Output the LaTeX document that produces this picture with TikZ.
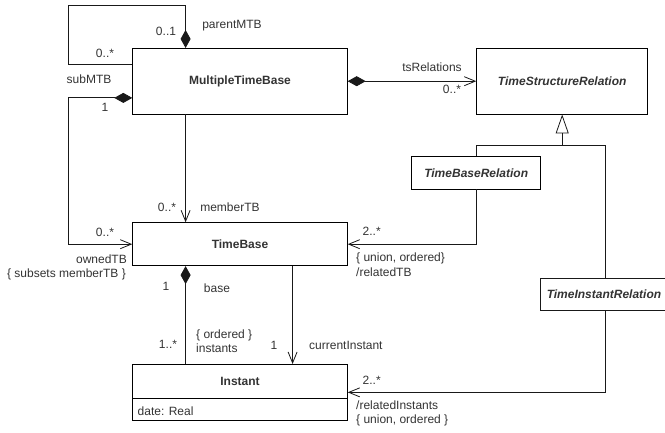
\documentclass[tikz,border=0pt]{standalone}
\usepackage{fontspec}
\setmainfont{Liberation Sans}
\usetikzlibrary{arrows.meta,calc,shapes.multipart}
\begin{document}
\begin{tikzpicture}[
    x=1pt, y=1pt,
    font=\fontsize{12}{13}\selectfont,
    every node/.style={text=black!80},
    cls/.style={draw, line width=0.8pt, inner sep=0pt, font=\fontsize{12}{13}\selectfont\bfseries},
    abscls/.style={cls, font=\fontsize{12}{13}\selectfont\bfseries\itshape},
    lbl/.style={inner sep=0pt},
    line/.style={line width=0.8pt, draw=black!90},
    assoc/.style={line, -{Straight Barb[length=11pt, width=9pt]}},
    comp/.style={line, {Diamond[length=18pt, width=10pt]}-},
    compnav/.style={line, {Diamond[length=18pt, width=10pt]}-{Straight Barb[length=11pt, width=9pt]}},
    gen/.style={line, -{Triangle[open, length=19pt, width=13pt]}}
]
\useasboundingbox (0,0) rectangle (665,432);

% classes
\node[cls, minimum width=214.6pt, minimum height=65.7pt] (mtb) at (240,350.8) {MultipleTimeBase};
\node[abscls, minimum width=171pt, minimum height=65.7pt] (tsr) at (562.2,350.8) {TimeStructureRelation};
\node[abscls, minimum width=129pt, minimum height=32.3pt] (tbr) at (476.2,259.2) {TimeBaseRelation};
\node[abscls, draw=none, minimum width=120pt, minimum height=31pt] (tir) at (604,137.5) {TimeInstantRelation};
\draw[line] ($(tir.north west)+(-3.3,0)$) rectangle ($(tir.south east)+(10,0)$);
\node[cls, minimum width=214.6pt, minimum height=43pt] (tb) at (240,187.8) {TimeBase};
\node[cls, rectangle split, rectangle split parts=2, rectangle split part align={center,left},
      inner xsep=5pt, inner ysep=0pt, minimum width=214.6pt, anchor=north] (inst) at (240,68)
      {\rule[-12.8pt]{0pt}{33.3pt}Instant
       \nodepart{two}\rule[-4.8pt]{0pt}{21pt}\mdseries date: Real};

% associations
\coordinate (loopL) at (68.3,426.3);
\coordinate (genj) at (0,286.3);
\coordinate (genr) at (605,0);
\draw[comp] ($(mtb.north west)+(53.3,0)$) |- (loopL) |- ($(mtb.west)+(0,16.7)$);
\draw[compnav] ($(mtb.west)+(0,-16.7)$) -| (loopL |- tb.west) -- (tb.west);
\draw[assoc] ($(mtb.south west)+(53.3,0)$) -- ($(tb.north west)+(53.3,0)$);
\draw[compnav] (mtb.east) -- (tsr.west);
\draw[gen] (tsr.south |- genj) -- (tsr.south);
\draw[line] (tbr.north) |- (genr |- genj) -- (genr |- tir.north);
\draw[assoc] (tbr.south) |- (tb.east);
\draw[assoc] (genr |- tir.south) |- (inst.east);
\draw[comp] ($(tb.south west)+(53.3,0)$) -- ($(inst.north west)+(53.3,0)$);
\draw[assoc] ($(tb.south west)+(160.3,0)$) -- ($(inst.north west)+(160.3,0)$);

% role names and multiplicities
\node[lbl] (m1) at (166,401) {0..1};
\node[lbl] (r1) at (232,406) {parentMTB};
\node[lbl] (m2) at (105,379) {0..*};
\node[lbl] (r2) at (89,353) {subMTB};
\node[lbl] (m3) at (105,325) {1};
\node[lbl] (m4) at (105,200) {0..*};
\node[lbl, anchor=east] (r3) at (127,173) {ownedTB};
\node[lbl, anchor=east] (c3) at (126,158) {\{ subsets memberTB \}};
\node[lbl] (m5) at (167,225) {0..*};
\node[lbl] (r4) at (230,225) {memberTB};
\node[lbl] (r5) at (432,365) {tsRelations};
\node[lbl] (m6) at (452,343) {0..*};
\node[lbl] (m7) at (371.7,200.3) {2..*};
\node[lbl, anchor=west] (c6) at (356,174) {\{ union, ordered\}};
\node[lbl, anchor=west] (r6) at (356,160) {/relatedTB};
\node[lbl] (m8) at (166,146) {1};
\node[lbl] (r7) at (217,144) {base};
\node[lbl] (m9) at (168,88) {1..*};
\node[lbl, anchor=west] (c8) at (196,97) {\{ ordered \}};
\node[lbl, anchor=west] (r8) at (196,84) {instants};
\node[lbl] (m10) at (274,87) {1};
\node[lbl, anchor=west] (r9) at (309,87) {currentInstant};
\node[lbl] (m11) at (371.7,52) {2..*};
\node[lbl, anchor=west] (r10) at (356,27) {/relatedInstants};
\node[lbl, anchor=west] (c10) at (356,12) {\{ union, ordered \}};
\end{tikzpicture}
\end{document}
